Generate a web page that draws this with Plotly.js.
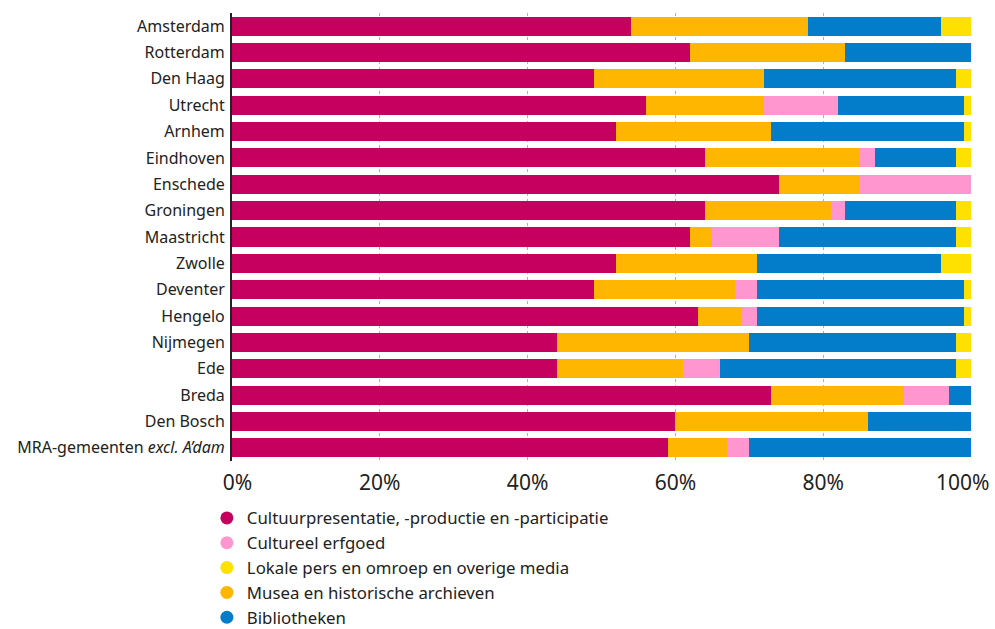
<!DOCTYPE html>
<html>
<head>
<meta charset="utf-8">
<script src="https://cdn.plot.ly/plotly-3.0.1.min.js"></script>
<style>html,body{margin:0;padding:0;background:#fff;}#chart{width:995px;height:629px;}</style>
</head>
<body>
<div id="chart"></div>
<script>
var cities = ["Amsterdam","Rotterdam","Den Haag","Utrecht","Arnhem","Eindhoven","Enschede","Groningen","Maastricht","Zwolle","Deventer","Hengelo","Nijmegen","Ede","Breda","Den Bosch","MRA-gemeenten <i>excl. A’dam</i>"];

var cultuur      = [54,62,49,56,52,64,74,64,62,52,49,63,44,44,73,60,59];
var musea        = [24,21,23,16,21,21,11,17, 3,19,19, 6,26,17,18,26, 8];
var erfgoed      = [ 0, 0, 0,10, 0, 2,15, 2, 9, 0, 3, 2, 0, 5, 6, 0, 3];
var bibliotheken = [18,17,26,17,26,11, 0,15,24,25,28,28,28,32, 3,14,30];
var lokalePers   = [ 4, 0, 2, 1, 1, 2, 0, 2, 2, 4, 1, 1, 2, 2, 0, 0, 0];

var tickVals = [0,20,40,60,80,100];
var tickText = ["\u00a0\u00a00%","20%","40%","60%","80%",""];
var lastTickLabel = "100%";
var lastTickValue = 100;

var names = {
  cultuur: "Cultuurpresentatie, -productie en -participatie",
  erfgoed: "Cultureel erfgoed",
  lokale: "Lokale pers en omroep en overige media",
  musea: "Musea en historische archieven",
  bieb: "Bibliotheken"
};
var colors = {
  cultuur: "#C6005E",
  erfgoed: "#FF96D0",
  lokale: "#FFE100",
  musea: "#FFB600",
  bieb: "#037CC9"
};

function bar(vals, key) {
  return {type:"bar", orientation:"h", x: vals, y: cities, name: names[key],
          marker:{color: colors[key], line:{width:0}}, showlegend:false, hoverinfo:"skip"};
}
function proxy(key) {
  return {type:"scatter", mode:"markers", x:[null], y:[null], name: names[key],
          marker:{color: colors[key], size:13, symbol:"circle"}, showlegend:true, hoverinfo:"skip"};
}

var data = [
  bar(cultuur,"cultuur"), bar(musea,"musea"), bar(erfgoed,"erfgoed"),
  bar(bibliotheken,"bieb"), bar(lokalePers,"lokale"),
  proxy("cultuur"), proxy("erfgoed"), proxy("lokale"), proxy("musea"), proxy("bieb")
];

var layout = {
  width: 995, height: 629,
  margin: {l:232, r:24, t:13, b:168, autoexpand:false},
  paper_bgcolor:"#fff", plot_bgcolor:"#fff",
  font: {family:"Noto Sans, sans-serif", color:"#222", size:16},
  barmode:"stack", bargap:0.278,
  showlegend:true,
  legend: {x:-0.034, xanchor:"left", yref:"container", y:0.2043, yanchor:"top", orientation:"v",
           maxheight:600, font:{size:16.8, color:"#222"}, traceorder:"normal", bgcolor:"rgba(0,0,0,0)"},
  xaxis: {range:[0,100], tickvals: tickVals, ticktext: tickText, showgrid:true,
          gridcolor:"#b0b0b0", gridwidth:1, griddash:"dot", zeroline:false,
          showline:false, ticks:"", ticklabelstandoff:7,
          tickfont:{size:21, color:"#222"}, fixedrange:true},
  yaxis: {type:"category", autorange:"reversed", showline:true, linecolor:"#222", linewidth:2,
          showgrid:false, zeroline:false, ticks:"", ticklabelstandoff:2,
          tickfont:{size:16, color:"#222"}, fixedrange:true},
  annotations: [{
    text: lastTickLabel, xref:"x", x: lastTickValue, yref:"paper", y:0,
    xanchor:"center", yanchor:"middle", xshift:-8, yshift:-21, showarrow:false,
    font:{size:21, color:"#222", family:"Noto Sans, sans-serif"}
  }]
};

Plotly.newPlot("chart", data, layout, {displayModeBar:false, staticPlot:true});
</script>
</body>
</html>
